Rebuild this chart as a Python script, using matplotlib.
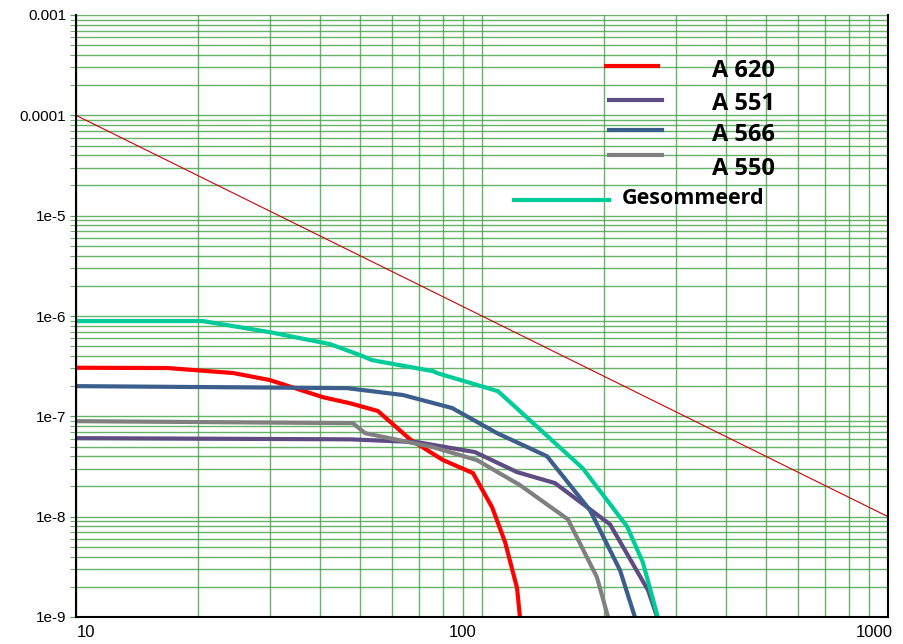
import numpy as np
import matplotlib
matplotlib.use('Agg')
from matplotlib import pyplot as plt
from matplotlib.transforms import ScaledTranslation

# data
x_620 = [10, 16.8, 24.4, 30.0, 40.6, 47.3, 55.4, 66.5, 80.2, 95.0, 105.9, 114, 122, 124]
y_620 = [3.05e-7, 3.03e-7, 2.70e-7, 2.30e-7, 1.55e-7, 1.35e-7, 1.13e-7, 5.9e-8, 3.66e-8, 2.72e-8, 1.24e-8, 5.57e-9, 1.94e-9, 1e-9]

x_551 = [10, 47.3, 69.2, 96.1, 122, 151.3, 206.6, 256.4, 270]
y_551 = [6.06e-8, 5.9e-8, 5.53e-8, 4.40e-8, 2.78e-8, 2.16e-8, 8.4e-9, 1.85e-9, 1e-9]

x_566 = [10, 46.5, 63.9, 84.4, 108.9, 144.6, 184.5, 218.7, 238]
y_566 = [2.0e-7, 1.91e-7, 1.63e-7, 1.21e-7, 6.8e-8, 4.0e-8, 1.16e-8, 2.93e-9, 1e-9]

x_550 = [10, 48.1, 51.5, 75.7, 97.2, 124.1, 162.8, 191.9, 204.4]
y_550 = [8.95e-8, 8.55e-8, 6.8e-8, 4.93e-8, 3.66e-8, 2.06e-8, 9.4e-9, 2.49e-9, 1e-9]

x_som = [10, 20.5, 30.0, 42.2, 50.1, 53.6, 75.7, 77.5, 109.5, 177, 227.6, 249, 271]
y_som = [8.9e-7, 8.9e-7, 6.9e-7, 5.25e-7, 4.07e-7, 3.63e-7, 2.82e-7, 2.70e-7, 1.78e-7, 3.04e-8, 8.0e-9, 3.5e-9, 1e-9]

x_ref = [10, 1000]
y_ref = [1e-4, 1e-8]

series = [
    ('A 620', x_620, y_620, '#FF0000'),
    ('A 551', x_551, y_551, '#5E4B82'),
    ('A 566', x_566, y_566, '#3B5E8C'),
    ('A 550', x_550, y_550, '#808080'),
    ('Gesommeerd', x_som, y_som, '#00CC99'),
]

fig = plt.figure(figsize=(9.04, 6.44), dpi=100)
ax = fig.add_axes([76/904, 27/644, 812/904, 602/644])
ax.set_xscale('log')
ax.set_yscale('log')
ax.set_xlim(10, 1000)
ax.set_ylim(1e-9, 1e-3)

ax.grid(True, which='both', color='#4CA64C', linewidth=1.0, alpha=0.85)
ax.set_axisbelow(True)

ax.plot(x_ref, y_ref, color='#CC0000', linewidth=0.8)
for name, xs, ys, col in series:
    ax.plot(xs, ys, color=col, linewidth=3, solid_joinstyle='miter')

ax.set_yticks([1e-9, 1e-8, 1e-7, 1e-6, 1e-5, 1e-4, 1e-3])
ax.set_yticklabels(['1e-9', '1e-8', '1e-7', '1e-6', '1e-5', '0.0001', '0.001'],
                   fontfamily='Liberation Sans', fontsize=11)
ax.set_xticks([10, 100, 1000])
ax.set_xticklabels(['10', '100', '1000'], fontfamily='Liberation Sans', fontsize=12)
ax.tick_params(axis='both', which='both', length=4, color='#4CA64C', pad=3)
ax.tick_params(axis='x', which='both', length=0, pad=6)

# excel puts the x labels a bit off their ticks
for lab, dx in zip(ax.get_xticklabels(), [10, -19, -14]):
    lab.set_transform(lab.get_transform() + ScaledTranslation(dx / 100, 0, fig.dpi_scale_trans))

ax.spines['top'].set_visible(False)
for s in ['left', 'right', 'bottom']:
    ax.spines[s].set_color('black')
    ax.spines[s].set_linewidth(1.5)

# hand placed legend (figure pixels)
def px(x, y):
    return x / 904, 1 - y / 644

leg = [
    ('A 620', '#FF0000', 606, 658, 66, 71),
    ('A 551', '#5E4B82', 609, 662, 100, 104),
    ('A 566', '#3B5E8C', 609, 662, 130, 135),
    ('A 550', '#808080', 609, 662, 155, 169),
]
for name, col, x0, x1, yl, yt in leg:
    a, b = px(x0, yl)
    c, _ = px(x1, yl)
    fig.add_artist(plt.Line2D([a, c], [b, b], color=col, linewidth=3))
    tx, ty = px(712, yt)
    fig.text(tx, ty, name, fontsize=17, fontweight='bold', fontfamily='Open Sans',
             va='center', ha='left')

a, b = px(514, 200)
c, _ = px(609, 200)
fig.add_artist(plt.Line2D([a, c], [b, b], color='#00CC99', linewidth=3))
tx, ty = px(622, 199)
fig.text(tx, ty, 'Gesommeerd', fontsize=15.5, fontweight='bold', fontfamily='Open Sans',
         va='center', ha='left')

fig.savefig('out.png', dpi=100)
